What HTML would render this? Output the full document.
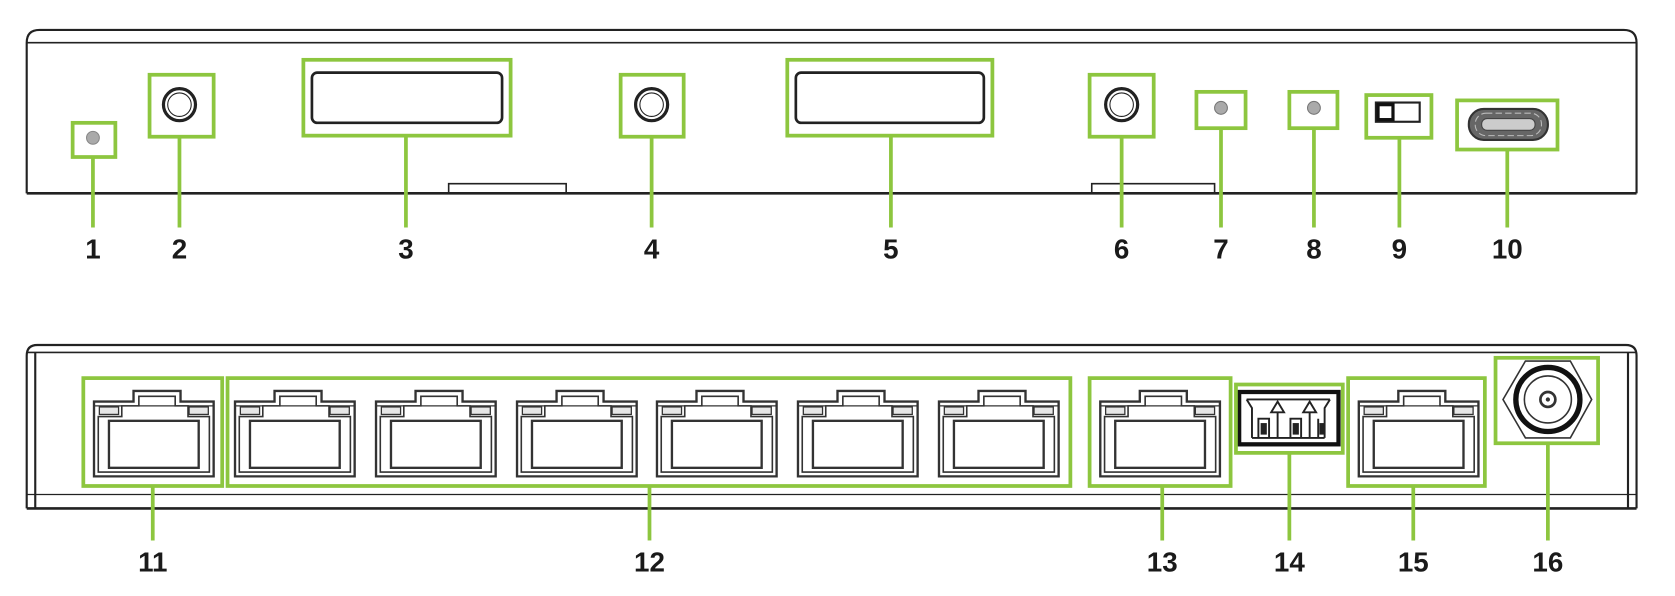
<!DOCTYPE html>
<html><head><meta charset="utf-8"><style>
html,body{margin:0;padding:0;background:#fff;}
svg{display:block}
text{font-family:"Liberation Sans",sans-serif;font-weight:bold;font-size:26px;fill:#1a1a1a;text-anchor:middle}
</style></head><body>
<svg width="1675" height="596" viewBox="0 0 1568 558" preserveAspectRatio="none" xmlns="http://www.w3.org/2000/svg">
<defs>
<g id="port" fill="none" stroke="#333">
<path d="M0,80 V10 H37 V0 H81 V10 H112 V80 Z" stroke-width="2.2"/>
<path d="M4,76 V24 H26 V14 H42 V5 H76 V14 H88 V24 H108 V76 Z" stroke-width="1.5"/>
<line x1="0" y1="14" x2="112" y2="14" stroke-width="1.2"/>
<rect x="5" y="15" width="18" height="7" fill="#e6e6e6" stroke-width="1.2"/>
<rect x="89" y="15" width="18" height="7" fill="#e6e6e6" stroke-width="1.2"/>
<rect x="14" y="28" width="84" height="44" stroke-width="2.2"/>
</g>
</defs>
<g fill="none" stroke="#222">
<path d="M25,181 V40 Q25,28 37,28 H1520 Q1532,28 1532,40 V181" stroke-width="2"/>
<line x1="25" y1="40" x2="1532" y2="40" stroke-width="1.5"/>
<line x1="25" y1="181" x2="1532" y2="181" stroke-width="2.5"/>
<path d="M420,181 V172 H530 V181" stroke-width="1.5"/>
<path d="M1022,181 V172 H1137 V181" stroke-width="1.5"/>
<rect x="292" y="68" width="178" height="47" rx="5" stroke-width="2.5"/>
<rect x="745" y="68" width="176" height="47" rx="5" stroke-width="2.5"/>
<circle cx="168" cy="98" r="15" stroke-width="3"/><circle cx="168" cy="98" r="11" stroke-width="1"/>
<circle cx="610" cy="98" r="15" stroke-width="3"/><circle cx="610" cy="98" r="11" stroke-width="1"/>
<circle cx="1050" cy="98" r="15" stroke-width="3"/><circle cx="1050" cy="98" r="11" stroke-width="1"/>
</g>
<circle cx="87" cy="129" r="6" fill="#aaa" stroke="#888"/>
<circle cx="1143" cy="101" r="6" fill="#aaa" stroke="#777"/>
<circle cx="1230" cy="101" r="6" fill="#aaa" stroke="#777"/>
<rect x="1288" y="96" width="41" height="18" fill="none" stroke="#222" stroke-width="2"/>
<rect x="1290" y="98" width="14" height="14" fill="#fff" stroke="#111" stroke-width="3"/>
<rect x="1375" y="102" width="74" height="29" rx="14" fill="#666" stroke="#333" stroke-width="2"/>
<rect x="1381" y="106" width="62" height="21" rx="10" fill="none" stroke="#bbb" stroke-width="1" stroke-dasharray="6 3"/>
<rect x="1387" y="111" width="50" height="11" rx="5" fill="#ccc" stroke="#444" stroke-width="1"/>
<g fill="none" stroke="#8dc63f" stroke-width="3.5">
<rect x="68" y="115" width="40" height="32"/><line x1="87" y1="147" x2="87" y2="213"/>
<rect x="140" y="70" width="60" height="58"/><line x1="168" y1="128" x2="168" y2="213"/>
<rect x="284" y="56" width="194" height="71"/><line x1="380" y1="127" x2="380" y2="213"/>
<rect x="581" y="70" width="59" height="58"/><line x1="610" y1="128" x2="610" y2="213"/>
<rect x="737" y="56" width="192" height="71"/><line x1="834" y1="127" x2="834" y2="213"/>
<rect x="1020" y="70" width="60" height="58"/><line x1="1050" y1="128" x2="1050" y2="213"/>
<rect x="1120" y="86" width="46" height="34"/><line x1="1143" y1="120" x2="1143" y2="213"/>
<rect x="1207" y="86" width="45" height="34"/><line x1="1230" y1="120" x2="1230" y2="213"/>
<rect x="1279" y="89" width="61" height="40"/><line x1="1310" y1="129" x2="1310" y2="213"/>
<rect x="1364" y="94" width="94" height="46"/><line x1="1411" y1="140" x2="1411" y2="213"/>
</g>
<g>
<text x="87" y="242">1</text><text x="168" y="242">2</text><text x="380" y="242">3</text>
<text x="610" y="242">4</text><text x="834" y="242">5</text><text x="1050" y="242">6</text>
<text x="1143" y="242">7</text><text x="1230" y="242">8</text><text x="1310" y="242">9</text>
<text x="1411" y="242">10</text>
</g>
<g fill="none" stroke="#222">
<path d="M25,476 V333 Q25,323 35,323 H1522 Q1532,323 1532,333 V476" stroke-width="2"/>
<line x1="25" y1="330" x2="1532" y2="330" stroke-width="1.5"/>
<line x1="33" y1="330" x2="33" y2="476" stroke-width="2"/>
<line x1="1524" y1="330" x2="1524" y2="476" stroke-width="2"/>
<line x1="25" y1="463" x2="1532" y2="463" stroke-width="1.2"/>
<line x1="25" y1="476" x2="1532" y2="476" stroke-width="2.5"/>
</g>
<use href="#port" x="88" y="366"/>
<use href="#port" x="220" y="366"/>
<use href="#port" x="352" y="366"/>
<use href="#port" x="484" y="366"/>
<use href="#port" x="615" y="366"/>
<use href="#port" x="747" y="366"/>
<use href="#port" x="879" y="366"/>
<use href="#port" x="1030" y="366"/>
<use href="#port" x="1272" y="366"/>
<rect x="1160" y="367" width="93" height="49" fill="#fff" stroke="#111" stroke-width="4"/>
<g fill="none" stroke="#222" stroke-width="1.8">
<path d="M1167,374 H1245 M1167,374 L1172,382 V410 M1245,374 L1240,382 V410 M1172,410 H1240"/>
<path d="M1190,386 L1196,376 L1202,386 Z M1220,386 L1226,376 L1232,386 Z"/>
<line x1="1196" y1="386" x2="1196" y2="410"/><line x1="1226" y1="386" x2="1226" y2="410"/>
<path d="M1178,410 V392 H1188 V410 M1208,410 V392 H1218 V410 M1234,410 V392"/>
<rect x="1181" y="397" width="4" height="9" fill="#222"/><rect x="1211" y="397" width="4" height="9" fill="#222"/><rect x="1236" y="397" width="3" height="9" fill="#222"/>
</g>
<polygon points="1407,374 1428,338 1470,338 1490,374 1470,410 1428,410" fill="none" stroke="#333" stroke-width="1.5"/>
<circle cx="1449" cy="374" r="30" fill="none" stroke="#111" stroke-width="5"/>
<circle cx="1449" cy="374" r="22" fill="none" stroke="#333" stroke-width="1.5"/>
<circle cx="1449" cy="374" r="7" fill="none" stroke="#333" stroke-width="2.5"/>
<circle cx="1449" cy="374" r="2" fill="#333"/>
<g fill="none" stroke="#8dc63f" stroke-width="3.5">
<rect x="78" y="354" width="130" height="101"/><line x1="143" y1="455" x2="143" y2="506"/>
<rect x="213" y="354" width="789" height="101"/><line x1="608" y1="455" x2="608" y2="506"/>
<rect x="1020" y="354" width="132" height="101"/><line x1="1088" y1="455" x2="1088" y2="506"/>
<rect x="1157" y="360" width="100" height="64"/><line x1="1207" y1="424" x2="1207" y2="506"/>
<rect x="1262" y="354" width="128" height="101"/><line x1="1323" y1="455" x2="1323" y2="506"/>
<rect x="1400" y="335" width="96" height="80"/><line x1="1449" y1="415" x2="1449" y2="506"/>
</g>
<g>
<text x="143" y="535">11</text><text x="608" y="535">12</text><text x="1088" y="535">13</text>
<text x="1207" y="535">14</text><text x="1323" y="535">15</text><text x="1449" y="535">16</text>
</g>
</svg>
</body></html>
